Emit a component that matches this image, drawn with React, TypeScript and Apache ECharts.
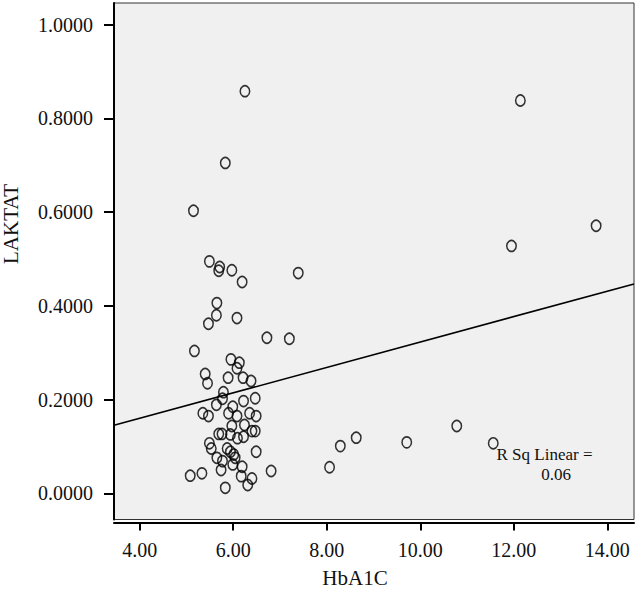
import React, { useEffect, useRef } from "react";
import * as echarts from "echarts";

// Scatter data: [HbA1C, LAKTAT]
const hba1c: number[] = [
  12.14, 13.76, 11.95, 7.39, 7.2, 8.06, 8.29, 8.63, 9.71, 10.78, 11.56,
  6.25, 5.83, 5.15, 5.49, 5.71, 5.69, 5.97, 6.19, 5.65, 5.64, 5.47, 6.08, 6.72,
  5.17, 5.95, 6.13, 6.08, 5.4, 5.45, 5.89, 6.21, 6.38, 5.79, 5.77, 5.64, 6.22, 6.47, 5.99,
  5.35, 5.47, 5.9, 6.08, 6.35, 6.49,
  5.97, 6.24, 5.69, 5.76, 5.94, 6.4, 6.47, 6.09, 6.22, 5.49, 5.53, 5.87, 5.94, 6.01, 6.04,
  6.49, 5.65, 5.77, 5.99, 6.19, 5.74, 6.17, 6.4, 6.31, 5.08, 5.33, 5.83, 6.81,
];
const laktat: number[] = [
  0.838, 0.571, 0.528, 0.47, 0.33, 0.056, 0.101, 0.119, 0.109, 0.144, 0.107,
  0.858, 0.705, 0.603, 0.495, 0.483, 0.475, 0.476, 0.451, 0.406, 0.38, 0.362, 0.374, 0.332,
  0.304, 0.286, 0.279, 0.267, 0.255, 0.235, 0.247, 0.247, 0.24, 0.216, 0.202, 0.189, 0.197, 0.203, 0.185,
  0.171, 0.165, 0.171, 0.165, 0.171, 0.165,
  0.144, 0.146, 0.127, 0.127, 0.126, 0.133, 0.133, 0.118, 0.121, 0.107, 0.096, 0.096, 0.089, 0.083, 0.076,
  0.089, 0.076, 0.069, 0.062, 0.057, 0.05, 0.037, 0.032, 0.018, 0.038, 0.043, 0.012, 0.048,
];

// Linear fit
const fitIntercept = 0.052;
const fitSlope = 0.0271;
const rSqLabel = ["R Sq Linear =", "0.06"];

const xTicks = [4, 6, 8, 10, 12, 14];
const yTicks = [0, 0.2, 0.4, 0.6, 0.8, 1.0];
const xRange = [3.45, 14.57];
const yRange = [-0.0555, 1.046];

const FONT = "'Liberation Serif', 'DejaVu Serif', serif";

export default function App() {
  const ref = useRef<HTMLDivElement>(null);

  useEffect(() => {
    if (!ref.current) return;
    const chart = echarts.init(ref.current, null, { renderer: "svg" });
    const points = hba1c.map((x, i) => [x, laktat[i]]);
    const fitLine = xRange.map((x) => [x, fitIntercept + fitSlope * x]);

    chart.setOption({
      animation: false,
      backgroundColor: "#ffffff",
      grid: {
        left: 114,
        right: 2,
        top: 3,
        bottom: 71.5,
        show: true,
        backgroundColor: "#f0f0f0",
        borderColor: "#333",
        borderWidth: 1,
      },
      xAxis: {
        type: "value",
        min: xRange[0],
        max: xRange[1],
        offset: 3,
        axisLine: { show: true, onZero: false, lineStyle: { color: "#000", width: 2 } },
        axisTick: { show: true, customValues: xTicks, length: 8, lineStyle: { color: "#000", width: 2 } },
        axisLabel: {
          customValues: xTicks,
          formatter: (v: number) => v.toFixed(2),
          fontFamily: FONT,
          fontSize: 20,
          color: "#111",
          margin: 17,
        },
        splitLine: { show: false },
      },
      yAxis: {
        type: "value",
        min: yRange[0],
        max: yRange[1],
        axisLine: { show: true, onZero: false, lineStyle: { color: "#000", width: 2 } },
        axisTick: { show: true, customValues: yTicks, length: 10, lineStyle: { color: "#000", width: 2 } },
        axisLabel: {
          customValues: yTicks,
          formatter: (v: number) => v.toFixed(4),
          fontFamily: FONT,
          fontSize: 20,
          color: "#111",
          margin: 21,
        },
        splitLine: { show: false },
      },
      graphic: [
        {
          type: "text",
          x: 11,
          y: 224,
          rotation: Math.PI / 2,
          style: {
            text: "LAKTAT",
            font: `21px ${FONT}`,
            fill: "#111",
            textAlign: "center",
            textVerticalAlign: "middle",
          },
        },
        {
          type: "text",
          x: 355,
          y: 578,
          style: {
            text: "HbA1C",
            font: `21px ${FONT}`,
            fill: "#111",
            textAlign: "center",
            textVerticalAlign: "middle",
          },
        },
        {
          type: "text",
          x: 544.5,
          y: 454,
          z: 10,
          style: {
            text: rSqLabel[0],
            font: `17px ${FONT}`,
            fill: "#111",
            textAlign: "center",
            textVerticalAlign: "middle",
          },
        },
        {
          type: "text",
          x: 556,
          y: 474,
          z: 10,
          style: {
            text: rSqLabel[1],
            font: `17px ${FONT}`,
            fill: "#111",
            textAlign: "center",
            textVerticalAlign: "middle",
          },
        },
      ],
      series: [
        {
          type: "line",
          data: fitLine,
          symbol: "none",
          silent: true,
          lineStyle: { color: "#000", width: 1.6 },
          z: 2,
        },
        {
          type: "scatter",
          data: points,
          symbol: "circle",
          symbolSize: [9.5, 11],
          itemStyle: { color: "rgba(0,0,0,0)", borderColor: "#000", borderWidth: 1.6 },
          z: 3,
        },
      ],
    });
    return () => chart.dispose();
  }, []);

  return (
    <div
      ref={ref}
      style={{ position: "fixed", left: 0, top: 0, width: 636, height: 591 }}
    />
  );
}
